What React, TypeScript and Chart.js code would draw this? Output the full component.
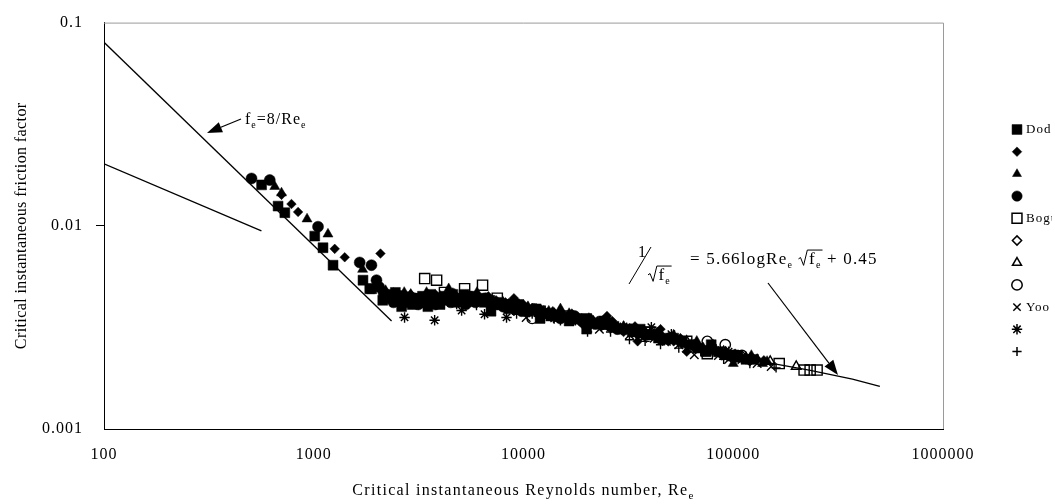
import React, { useEffect, useRef } from 'react';
import { Chart, registerables } from 'chart.js';
import { drawPoint } from 'chart.js/helpers';

Chart.register(...registerables);

const SERIF = '"Liberation Serif", "Times New Roman", serif';

// ---- axis ticks & titles ----
const xTickValues = [100, 1000, 10000, 100000, 1000000];
const yTickValues = [0.001, 0.01, 0.1];
const xTitle = 'Critical instantaneous Reynolds number, Re';
const yTitle = 'Critical instantaneous friction factor';

// ---- legend ----
const legendLabels = ['Dodge', '', '', '', 'Bogue', '', '', '', 'Yoo', '', ''];
const pointStyles = ['rect', 'rectRot', 'triangle', 'circle', 'rect', 'rectRot', 'triangle', 'circle', 'crossRot', 'star', 'cross'];
const filledFlags = [true, true, true, true, false, false, false, false, false, false, false];
const pointRadii = [7, 4.8, 5.8, 5.5, 7.2, 4.6, 5.6, 5.2, 6, 5.2, 4.6];

// ---- series values: [Re, f] ----
const filledSquares = [
  [564, 0.0159], [676, 0.0125], [728, 0.0116], [1011, 0.0089], [1107, 0.0078], [1236, 0.0064],
  [1717, 0.0054], [1849, 0.0049], [1888, 0.0049], [2133, 0.0043], [2300, 0.0046], [2624, 0.0040],
  [2800, 0.0043], [3100, 0.0044], [3300, 0.0045], [3600, 0.0046], [3900, 0.0044], [4200, 0.0045],
  [4600, 0.0046], [5000, 0.0044], [5400, 0.0045], [5900, 0.0043], [6500, 0.0042], [7200, 0.0041],
  [8000, 0.0041], [9000, 0.0040], [10500, 0.0038], [12500, 0.0037], [15000, 0.0036], [18000, 0.0035],
  [22000, 0.0033], [27000, 0.0032], [33000, 0.0030], [40000, 0.0029], [48000, 0.0028], [57000, 0.0027],
  [68000, 0.0025], [78500, 0.0026], [91600, 0.00232], [105000, 0.0023], [125000, 0.0022],
  [2450, 0.0047], [2950, 0.0041], [3450, 0.0042], [4000, 0.0041], [4400, 0.0043], [4800, 0.0042],
  [5200, 0.0046], [5700, 0.0045], [6200, 0.0044], [6900, 0.0043], [7600, 0.0042], [8500, 0.0039],
  [9500, 0.0041], [11500, 0.0039], [13500, 0.0036], [16500, 0.0034], [20000, 0.0035], [24000, 0.0034],
  [30000, 0.0031], [36000, 0.0031], [44000, 0.0028], [52000, 0.0028], [62000, 0.0026], [74000, 0.0024],
  [85000, 0.0024], [98000, 0.0023], [115000, 0.0022],
  [3500, 0.0040], [7000, 0.0038], [12000, 0.0035], [20000, 0.0031],
];
const filledDiamonds = [
  [702, 0.0142], [783, 0.0128], [842, 0.0117], [1259, 0.0077], [1405, 0.0070], [2080, 0.0073],
  [2400, 0.0047], [2900, 0.0046], [3400, 0.0045], [3800, 0.0046], [4300, 0.0045], [4800, 0.0044],
  [5300, 0.0044], [5800, 0.0044], [6400, 0.0043], [7000, 0.0042], [7800, 0.0041], [8600, 0.0040],
  [9500, 0.0040], [10500, 0.0039], [11500, 0.0038], [13000, 0.0037], [14500, 0.0036], [16000, 0.0036],
  [18000, 0.0035], [20000, 0.0034], [22500, 0.0034], [25000, 0.0033], [28000, 0.0032], [32000, 0.0031],
  [36000, 0.0030], [41000, 0.0029], [46000, 0.0028], [52000, 0.0027], [60000, 0.0026], [70000, 0.0025],
  [82000, 0.0024], [95000, 0.0023], [110000, 0.00225], [130000, 0.0022],
  [3100, 0.0043], [3600, 0.0043], [4100, 0.0042], [4600, 0.0047], [5600, 0.0042], [6800, 0.0045],
  [7400, 0.0043], [8200, 0.0042], [9000, 0.0038], [10000, 0.0041], [12000, 0.0039], [13800, 0.0038],
  [15200, 0.0035], [17000, 0.0037], [19000, 0.0033], [21000, 0.0035], [23500, 0.0032], [26500, 0.0034],
  [30000, 0.0030], [34000, 0.0032], [38500, 0.0029], [43500, 0.0030], [49000, 0.0027], [56000, 0.0028],
  [65000, 0.0025], [76000, 0.0025], [88000, 0.0023], [102000, 0.00235], [120000, 0.00215], [140000, 0.00218],
  [9000, 0.0044], [25000, 0.0036], [45000, 0.0031], [35000, 0.0027], [60000, 0.0024],
];
const filledTriangles = [
  [652, 0.0156], [702, 0.0145], [929, 0.0108], [1169, 0.0091], [1710, 0.0061], [2200, 0.0048],
  [2700, 0.0047], [3200, 0.0044], [3700, 0.0045], [4400, 0.0044], [5100, 0.0045], [5700, 0.0043],
  [6300, 0.0042], [7500, 0.0041], [8500, 0.0041], [9800, 0.0040], [11000, 0.0039], [12500, 0.0038],
  [14000, 0.0037], [15500, 0.0036], [17500, 0.0035], [19500, 0.0034], [21500, 0.0034], [24000, 0.0033],
  [27000, 0.0032], [30000, 0.0032], [34000, 0.0031], [38000, 0.0030], [43000, 0.0029], [49000, 0.0028],
  [55000, 0.0027], [63000, 0.0026], [72000, 0.0025], [85000, 0.0024], [100000, 0.0023], [115000, 0.00225],
  [130000, 0.0022], [145000, 0.00215],
  [2900, 0.0046], [3450, 0.0047], [4000, 0.0045], [4700, 0.0046], [5400, 0.0043], [6000, 0.0044],
  [6900, 0.0043], [8000, 0.0042], [9200, 0.0039], [10500, 0.0040], [11800, 0.0037], [13200, 0.0038],
  [14800, 0.0035], [16500, 0.0037], [18500, 0.0034], [20500, 0.0035], [22700, 0.0032], [25500, 0.0034],
  [28500, 0.0031], [32000, 0.0031], [36000, 0.0029], [40500, 0.0030], [46000, 0.0027], [52000, 0.0029],
  [59000, 0.0026], [67000, 0.0027], [78000, 0.0024], [92000, 0.0024], [107000, 0.0022], [122000, 0.0023],
  [138000, 0.0021],
  [4400, 0.0049], [6000, 0.0047], [15000, 0.0039], [80000, 0.0026], [100000, 0.0021],
];
const filledCircles = [
  [505, 0.0171], [617, 0.0168], [1048, 0.0099], [1656, 0.0066], [1884, 0.0064], [1991, 0.0054],
  [2050, 0.0050], [2300, 0.0044], [2500, 0.0043], [2750, 0.0042], [3000, 0.0042], [3300, 0.0042],
  [3600, 0.0043], [4000, 0.0043], [4500, 0.0042], [5000, 0.0043], [5600, 0.0044], [6200, 0.0043],
  [7000, 0.0042], [8000, 0.0040], [9200, 0.0039], [10500, 0.0038], [12000, 0.0038], [14000, 0.0036],
  [16500, 0.0035], [19000, 0.0034], [22000, 0.0033], [26000, 0.0032], [30000, 0.0031], [35000, 0.0030],
  [2150, 0.0047], [2400, 0.0042], [2600, 0.0045], [2850, 0.0044], [3150, 0.0041], [3450, 0.0044],
  [3800, 0.0041], [4250, 0.0044], [4750, 0.0044], [5300, 0.0041], [5900, 0.0042], [6600, 0.0044],
  [7500, 0.0041], [8600, 0.0041], [9800, 0.0038], [11200, 0.0039], [13000, 0.0037], [15000, 0.0035],
  [17500, 0.0036], [20500, 0.0033], [24000, 0.0033], [28000, 0.0031], [32500, 0.0031], [38000, 0.0029],
  [44000, 0.0029],
];
const openSquares = [
  [3380, 0.0055], [3853, 0.0054], [5240, 0.0049], [6380, 0.0051], [4200, 0.0047], [7500, 0.0044],
  [9000, 0.0041], [12000, 0.0038], [16000, 0.0036], [25000, 0.0033], [40000, 0.0030], [60000, 0.0027],
  [75200, 0.00235], [100000, 0.0023], [165600, 0.0021], [217700, 0.00195], [232600, 0.00195], [251000, 0.00195],
];
const openDiamonds = [
  [9000, 0.0040], [11500, 0.0039], [14000, 0.0037], [17000, 0.0035], [21000, 0.0034], [26000, 0.0033],
  [31000, 0.0031], [38000, 0.0030], [45000, 0.0029], [55000, 0.0027], [65000, 0.0026], [78000, 0.0025],
  [92000, 0.0024], [110000, 0.0023],
];
const openTriangles = [
  [10000, 0.0038], [15000, 0.0036], [25000, 0.0032], [40000, 0.0029], [60000, 0.0027], [90000, 0.0024],
  [120000, 0.0022], [150000, 0.00215], [199600, 0.00203],
];
const openCircles = [
  [11000, 0.0035], [20000, 0.0033], [35000, 0.0030], [50000, 0.0028], [75200, 0.0027], [91600, 0.0026],
  [110000, 0.0023],
];
const yooCrosses = [
  [10300, 0.00354], [12000, 0.0036], [14500, 0.0035], [17000, 0.0034], [20000, 0.0032], [23000, 0.0031],
  [27000, 0.0031], [32000, 0.0029], [37000, 0.0028], [42000, 0.0028], [48000, 0.0027], [55000, 0.0026],
  [60000, 0.0025], [65200, 0.00232], [68900, 0.00248], [75000, 0.0024], [85000, 0.0023], [95000, 0.0022],
  [110000, 0.0022], [130000, 0.0021], [151700, 0.00203],
];
const stars = [
  [2710, 0.00354], [3770, 0.00343], [5070, 0.00383], [6520, 0.00367], [8300, 0.00354], [11000, 0.0037],
  [14000, 0.0035], [18000, 0.0035], [24000, 0.0034], [30000, 0.0032], [40700, 0.00317], [50700, 0.00293],
  [58000, 0.0027], [66000, 0.0026], [80000, 0.0025], [95000, 0.0024],
];
const plusMarks = [
  [4800, 0.00409], [5970, 0.00405], [9270, 0.00367], [12000, 0.0035], [15000, 0.0034], [20200, 0.0030],
  [26000, 0.0030], [32000, 0.00275], [38000, 0.0027], [45000, 0.0026], [55000, 0.0025], [70000, 0.0024],
  [90000, 0.0022], [120000, 0.0021], [160000, 0.0020],
];

// ---- reference lines: [Re, f] ----
const laminarLine = [[100, 0.08], [2350, 0.0034]];
const shortLine = [[100, 0.0202], [563, 0.00944]];
const correlationLine = [
  [2500, 0.0048], [5000, 0.0043], [10000, 0.0039], [20000, 0.0034], [40000, 0.0029],
  [100000, 0.00228], [230000, 0.00195], [370000, 0.00176], [500000, 0.00162],
];

const allSeries = [
  filledSquares, filledDiamonds, filledTriangles, filledCircles, openSquares, openDiamonds,
  openTriangles, openCircles, yooCrosses, stars, plusMarks,
];
const allLines = [laminarLine, shortLine, correlationLine];

type Seg = { t?: string; size: number; dy?: number; sqrt?: Seg[] };

function drawSegs(ctx: CanvasRenderingContext2D, segs: Seg[], x: number, y: number, spacing: number): number {
  for (const s of segs) {
    if (s.sqrt) {
      const size = s.size;
      const startX = x;
      x += 0.62 * size;
      x = drawSegs(ctx, s.sqrt, x, y, spacing);
      ctx.save();
      ctx.beginPath();
      ctx.lineWidth = 1;
      ctx.strokeStyle = '#000';
      ctx.moveTo(startX, y - 0.3 * size);
      ctx.lineTo(startX + 0.12 * size, y - 0.38 * size);
      ctx.lineTo(startX + 0.3 * size, y + 0.08 * size);
      ctx.lineTo(startX + 0.52 * size, y - 0.82 * size);
      ctx.lineTo(x + 1, y - 0.82 * size);
      ctx.stroke();
      ctx.restore();
    } else {
      ctx.font = `${s.size}px ${SERIF}`;
      (ctx as any).letterSpacing = spacing + 'px';
      ctx.textAlign = 'left';
      ctx.textBaseline = 'alphabetic';
      ctx.fillText(s.t || '', x, y + (s.dy || 0));
      x += ctx.measureText(s.t || '').width;
    }
  }
  return x;
}

function segsWidth(ctx: CanvasRenderingContext2D, segs: Seg[], spacing: number): number {
  let w = 0;
  for (const s of segs) {
    if (s.sqrt) {
      w += 0.62 * s.size + segsWidth(ctx, s.sqrt, spacing);
    } else {
      ctx.font = `${s.size}px ${SERIF}`;
      (ctx as any).letterSpacing = spacing + 'px';
      w += ctx.measureText(s.t || '').width;
    }
  }
  return w;
}

function arrow(ctx: CanvasRenderingContext2D, x1: number, y1: number, x2: number, y2: number) {
  const ang = Math.atan2(y2 - y1, x2 - x1);
  const len = 15;
  const hw = 5.5;
  const bx = x2 - Math.cos(ang) * len;
  const by = y2 - Math.sin(ang) * len;
  ctx.save();
  ctx.strokeStyle = '#000';
  ctx.fillStyle = '#000';
  ctx.lineWidth = 1.2;
  ctx.beginPath();
  ctx.moveTo(x1, y1);
  ctx.lineTo(bx, by);
  ctx.stroke();
  ctx.beginPath();
  ctx.moveTo(x2, y2);
  ctx.lineTo(bx + Math.sin(ang) * hw, by - Math.cos(ang) * hw);
  ctx.lineTo(bx - Math.sin(ang) * hw, by + Math.cos(ang) * hw);
  ctx.closePath();
  ctx.fill();
  ctx.restore();
}

const decorPlugin = {
  id: 'decor',
  beforeDraw(chart: any) {
    (chart.ctx as any).letterSpacing = '1px';
  },
  beforeDatasetsDraw(chart: any) {
    const { ctx, chartArea } = chart;
    ctx.save();
    ctx.strokeStyle = '#9a9a9a';
    ctx.lineWidth = 1;
    ctx.beginPath();
    ctx.moveTo(chartArea.left, chartArea.top + 0.5);
    ctx.lineTo(chartArea.right + 0.5, chartArea.top + 0.5);
    ctx.lineTo(chartArea.right + 0.5, chartArea.bottom);
    ctx.stroke();
    ctx.restore();
  },
  afterDraw(chart: any) {
    const ctx: CanvasRenderingContext2D = chart.ctx;
    const { chartArea } = chart;
    ctx.save();
    ctx.fillStyle = '#000';

    // legend
    const lx = 1017;
    const ly0 = 129.5;
    const step = 22.2;
    for (let i = 0; i < allSeries.length; i++) {
      const y = ly0 + i * step;
      ctx.fillStyle = filledFlags[i] ? '#000' : 'rgba(0,0,0,0)';
      ctx.strokeStyle = '#000';
      ctx.lineWidth = filledFlags[i] ? 0.5 : 1.5;
      const r = Math.min(pointRadii[i], pointStyles[i] === 'rect' ? 7 : 5.2);
      drawPoint(ctx, { pointStyle: pointStyles[i], radius: r, rotation: 0, borderWidth: ctx.lineWidth } as any, lx, y);
      if (legendLabels[i]) {
        ctx.save();
        ctx.beginPath();
        ctx.rect(1020, y - 12, 32, 24);
        ctx.clip();
        ctx.fillStyle = '#000';
        ctx.font = `13px ${SERIF}`;
        (ctx as any).letterSpacing = '1px';
        ctx.textAlign = 'left';
        ctx.textBaseline = 'middle';
        ctx.fillText(legendLabels[i], 1026, y + 0.5);
        ctx.restore();
      }
    }
    ctx.fillStyle = '#000';

    // axis titles
    const xSegs: Seg[] = [{ t: xTitle, size: 16 }, { t: 'e', size: 11, dy: 4 }];
    const xw = segsWidth(ctx, xSegs, 1.3);
    drawSegs(ctx, xSegs, (chartArea.left + chartArea.right) / 2 - xw / 2, 495, 1.3);

    ctx.save();
    ctx.translate(26, (chartArea.top + chartArea.bottom) / 2);
    ctx.rotate(-Math.PI / 2);
    ctx.font = `16px ${SERIF}`;
    (ctx as any).letterSpacing = '0.4px';
    ctx.textAlign = 'center';
    ctx.textBaseline = 'alphabetic';
    ctx.fillText(yTitle, 0, 0);
    ctx.restore();

    // laminar annotation
    arrow(ctx, 241, 119, 207, 133);
    drawSegs(ctx, [
      { t: 'f', size: 16 }, { t: 'e', size: 10, dy: 4 }, { t: '=8/Re', size: 16 }, { t: 'e', size: 10, dy: 4 },
    ], 245, 124, 1);

    // correlation annotation
    drawSegs(ctx, [{ t: '1', size: 16 }], 638, 257, 0);
    ctx.beginPath();
    ctx.lineWidth = 1;
    ctx.moveTo(629, 284);
    ctx.lineTo(651, 247);
    ctx.stroke();
    drawSegs(ctx, [{ size: 17, sqrt: [{ t: 'f', size: 17 }, { t: 'e', size: 10, dy: 4 }] }], 648, 280, 1);
    drawSegs(ctx, [
      { t: '= 5.66logRe', size: 17 }, { t: 'e', size: 10, dy: 4 }, { t: ' ', size: 17 },
      { size: 17, sqrt: [{ t: 'f', size: 17 }, { t: 'e', size: 10, dy: 4 }] },
      { t: ' + 0.45', size: 17 },
    ], 690, 264, 1.2);
    arrow(ctx, 768, 283, 838, 375);

    ctx.restore();
  },
};

export default function App() {
  const canvasRef = useRef<HTMLCanvasElement | null>(null);

  useEffect(() => {
    const canvas = canvasRef.current;
    if (!canvas) return;
    const toPts = (arr: number[][]) => arr.map(([x, y]) => ({ x, y }));

    const markerSets = allSeries.map((d, i) => ({
      label: legendLabels[i] || `series ${i + 1}`,
      data: toPts(d),
      showLine: false,
      pointStyle: pointStyles[i],
      pointRadius: pointRadii[i],
      pointBackgroundColor: filledFlags[i] ? '#000' : 'rgba(0,0,0,0)',
      pointBorderColor: '#000',
      pointBorderWidth: filledFlags[i] ? 0.5 : 1.4,
      backgroundColor: filledFlags[i] ? '#000' : 'rgba(0,0,0,0)',
      borderColor: '#000',
      order: filledFlags[i] ? 2 : 1,
    }));
    const lineSets = allLines.map((d, i) => ({
      label: `line ${i + 1}`,
      data: toPts(d),
      showLine: true,
      pointRadius: 0,
      borderColor: '#000',
      borderWidth: 1.3,
      tension: 0,
      fill: false,
      order: 3,
    }));

    const chart = new Chart(canvas, {
      type: 'scatter',
      data: { datasets: [...markerSets, ...lineSets] as any },
      plugins: [decorPlugin as any],
      options: {
        responsive: false,
        maintainAspectRatio: false,
        animation: false,
        events: [],
        layout: { padding: { top: 14, right: 112, left: 0, bottom: 0 } },
        plugins: { legend: { display: false }, tooltip: { enabled: false }, title: { display: false } },
        scales: {
          x: {
            type: 'logarithmic',
            min: 100,
            max: 1000000,
            afterBuildTicks: (s: any) => { s.ticks = xTickValues.map((v) => ({ value: v })); },
            afterFit: (s: any) => { s.height = 75; },
            ticks: {
              autoSkip: false,
              maxRotation: 0,
              padding: 16,
              color: '#000',
              font: { family: SERIF, size: 16 },
              callback: (v: any) => String(v),
            },
            grid: { display: true, drawOnChartArea: false, drawTicks: false },
            border: { display: true, color: '#000', width: 1 },
          },
          y: {
            type: 'logarithmic',
            min: 0.001,
            max: 0.1,
            afterBuildTicks: (s: any) => { s.ticks = yTickValues.map((v) => ({ value: v })); },
            afterFit: (s: any) => { s.width = 104; },
            ticks: {
              autoSkip: false,
              padding: 13,
              color: '#000',
              font: { family: SERIF, size: 16 },
              callback: (v: any) => String(v),
            },
            grid: {
              display: true,
              drawOnChartArea: false,
              drawTicks: true,
              tickLength: 8,
              color: (c: any) => (c.tick && c.tick.value === 0.01 ? '#000' : 'rgba(0,0,0,0)'),
            },
            border: { display: true, color: '#000', width: 1 },
          },
        },
      },
    });
    return () => chart.destroy();
  }, []);

  return (
    <div style={{ position: 'fixed', left: 0, top: 0, width: 1055, height: 504, overflow: 'hidden', background: '#fff' }}>
      <canvas ref={canvasRef} width={1055} height={504} style={{ display: 'block' }} />
    </div>
  );
}
